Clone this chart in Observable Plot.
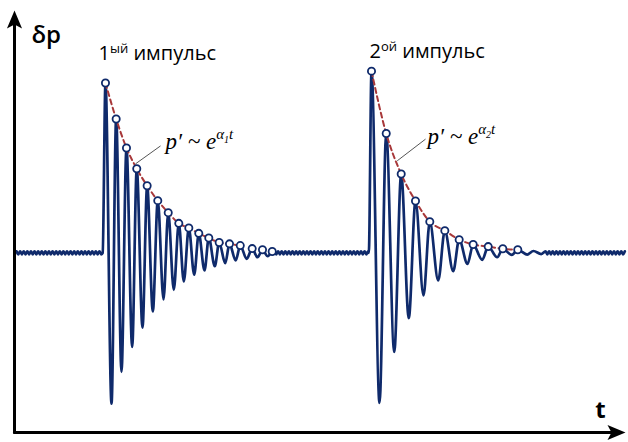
<!DOCTYPE html>
<html><head><meta charset="utf-8">
<script src="https://cdn.jsdelivr.net/npm/d3@7"></script>
<script src="https://cdn.jsdelivr.net/npm/@observablehq/plot@0.6"></script>
<style>body{margin:0;background:#fff}</style>
</head><body><div id="chart"></div>
<script>
// ---- values (t: time units 0..100, p: δp, baseline 0, first peak ≈ 1) ----
const impulse1Peaks = [[14.89,1.002],[16.64,0.790],[18.33,0.619],[20.01,0.496],[21.71,0.396],[23.45,0.308],[25.16,0.237],[26.89,0.174],[28.53,0.147],[30.16,0.115],[31.80,0.088],[33.50,0.061],[35.19,0.053],[36.95,0.043],[38.90,0.025],[40.59,0.018],[42.18,0.008]];
const impulse1Troughs = [[15.88,-0.890],[17.51,-0.702],[19.26,-0.555],[20.95,-0.441],[22.64,-0.345],[24.39,-0.275],[26.07,-0.218],[27.71,-0.169],[29.41,-0.129],[31.10,-0.104],[32.78,-0.079],[34.49,-0.061],[36.20,-0.045],[38.00,-0.035],[39.77,-0.026],[41.45,-0.020]];
const impulse2Peaks = [[58.43,1.072],[60.84,0.704],[63.29,0.465],[65.63,0.306],[67.97,0.184],[70.43,0.131],[72.78,0.078],[75.07,0.049],[77.53,0.037],[79.92,0.024],[82.37,0.018]];
const impulse2Troughs = [[59.74,-0.885],[62.15,-0.585],[64.53,-0.385],[66.94,-0.251],[69.35,-0.163],[71.80,-0.108],[74.14,-0.065],[76.55,-0.041],[79.00,-0.026],[81.39,-0.012],[83.91,-0.010],[86.20,-0.007]];
const tailWiggles = [[84.94,0.011]];
const onsets = [14.43, 57.99];
const envelopeCount = [14, 11];
const rippleSegments = [[0.33,14.43],[42.55,57.99],[86.91,100]];
const ripplePeriod = 0.59;
const rippleAmp = 0.009;

const labelBase = ["1","2"];
const labelSup = ["ый","ой"];
const labelRest = [" импульс"," импульс"];
const labelT = [13.75, 58.10];
const labelP = [1.137, 1.151];

const formulaSub = ["1","2"];
const formulaT = [24.71, 67.6];
const formulaP = [0.614, 0.643];
const leaderFrom = [[19.80,0.525],[62.64,0.543]];
const leaderTo = [[23.90,0.631],[67.27,0.671]];

const xDomain = [0, 100];
const yDomain = [-1.06, 1.43];
const axisLabels = ["δр", "t"];

// ---- build tables ----
const wave = [];
rippleSegments.forEach(([a, b]) => {
  let k = 0;
  for (let t = a; t < b - 1e-6; t += ripplePeriod / 2, k++) wave.push({t, p: k % 2 ? -rippleAmp : rippleAmp});
});
onsets.forEach(t => wave.push({t, p: 0}));
[...impulse1Peaks, ...impulse1Troughs, ...impulse2Peaks, ...impulse2Troughs, ...tailWiggles]
  .forEach(([t, p]) => wave.push({t, p}));
wave.sort((a, b) => a.t - b.t);

const peaks = [...impulse1Peaks.map(([t,p]) => ({t,p,g:1})), ...impulse2Peaks.map(([t,p]) => ({t,p,g:2}))];
const envelope = [
  ...impulse1Peaks.slice(0, envelopeCount[0]).map(([t,p]) => ({t,p,g:1})),
  ...impulse2Peaks.slice(0, envelopeCount[1]).map(([t,p]) => ({t,p,g:2}))
];
const labels = labelBase.map((b,i) => ({t: labelT[i], p: labelP[i], base: b, sup: labelSup[i], rest: labelRest[i]}));
const formulas = formulaSub.map((s,i) => ({t: formulaT[i], p: formulaP[i], sub: s}));
const leaders = leaderFrom.map((f,i) => ({x1: f[0], y1: f[1], x2: leaderTo[i][0], y2: leaderTo[i][1]}));
const axes = [
  {x1: xDomain[0], y1: yDomain[0], x2: xDomain[0], y2: yDomain[1], rot: 0},
  {x1: xDomain[0], y1: yDomain[0], x2: xDomain[1], y2: yDomain[0], rot: 90}
];

// filled arrowhead symbol, tip at the origin, pointing up
const arrowHead = {
  draw(ctx, size) {
    const r = Math.sqrt(size / Math.PI);
    ctx.moveTo(0, 0);
    ctx.lineTo(0.42 * r, r);
    ctx.lineTo(0, 0.78 * r);
    ctx.lineTo(-0.42 * r, r);
    ctx.closePath();
  }
};

const SVGNS = "http://www.w3.org/2000/svg";
function rich(partsOf) {
  return (index, scales, values, dimensions, context, next) => {
    const g = next(index, scales, values, dimensions, context);
    g.querySelectorAll("text").forEach((el, j) => {
      const parts = partsOf(index[j]);
      el.textContent = "";
      let prev = 0;
      for (const q of parts) {
        const ts = document.createElementNS(SVGNS, "tspan");
        ts.textContent = q.text;
        if (q.size) ts.setAttribute("font-size", q.size);
        const s = q.shift || 0;
        if (s !== prev) ts.setAttribute("dy", -(s - prev));
        if (q.dx) ts.setAttribute("dx", q.dx);
        prev = s;
        el.appendChild(ts);
      }
    });
    return g;
  };
}

const NAVY = "#0f2a6b";
const RED = "#a8383a";

const chart = Plot.plot({
  width: 628, height: 442,
  marginLeft: 14, marginRight: 3, marginTop: 10, marginBottom: 10,
  x: {domain: xDomain, axis: null},
  y: {domain: yDomain, axis: null},
  marks: [
    Plot.line(wave, {x: "t", y: "p", stroke: NAVY, strokeWidth: 2.7, curve: "monotone-x"}),
    Plot.line(envelope, {x: "t", y: "p", z: "g", stroke: RED, strokeWidth: 2, strokeDasharray: "5,3.5", curve: "monotone-x"}),
    Plot.dot(peaks, {x: "t", y: "p", r: 3.6, fill: "white", stroke: NAVY, strokeWidth: 1.8}),
    Plot.link(leaders, {x1: "x1", y1: "y1", x2: "x2", y2: "y2", stroke: "#555", strokeWidth: 1}),
    Plot.arrow(axes, {x1: "x1", y1: "y1", x2: "x2", y2: "y2", stroke: "black", strokeWidth: 3, headLength: 0, insetEnd: 10}),
    Plot.dot(axes, {x: "x2", y: "y2", rotate: "rot", symbol: arrowHead, r: 18, fill: "black", stroke: "none"}),
    Plot.text([axisLabels[0]], {x: 2.78, y: 1.237, text: d => d, textAnchor: "start", lineAnchor: "bottom", fontSize: 24, fontWeight: 600, fontFamily: "Open Sans", fill: "black"}),
    Plot.text([axisLabels[1]], {x: 95.9, y: -0.975, text: d => d, textAnchor: "middle", lineAnchor: "bottom", fontSize: 24, fontWeight: 700, fontFamily: "Open Sans", fill: "black"}),
    Plot.text(labels, {x: "t", y: "p", text: d => d.base + d.sup + d.rest, textAnchor: "start", lineAnchor: "bottom", fontSize: 20, fontFamily: "Open Sans", fill: "black",
      render: rich(i => [{text: labels[i].base}, {text: labels[i].sup, size: 13, shift: 7}, {text: labels[i].rest, shift: 0}])}),
    Plot.text(formulas, {x: "t", y: "p", text: d => "p′ ~ eα" + d.sub + "t", textAnchor: "start", lineAnchor: "bottom", fontSize: 23, fontStyle: "italic", fontFamily: "Liberation Serif", fill: "black",
      render: rich(i => [{text: "p′ ~ e"}, {text: "α", size: 15, shift: 10}, {text: formulas[i].sub, size: 10, shift: 6}, {text: "t", size: 15, shift: 10}])})
  ]
});
document.getElementById("chart").appendChild(chart);
</script>
</body></html>
